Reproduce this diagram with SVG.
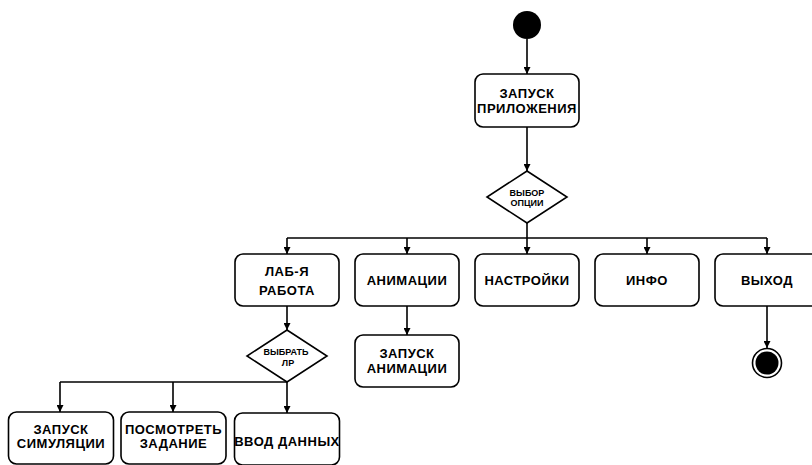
<svg xmlns="http://www.w3.org/2000/svg" width="812" height="465" viewBox="0 0 812 465">
<defs>
<style>
.box{fill:#fff;stroke:#000;stroke-width:1.6}
.dia{fill:#fff;stroke:#000;stroke-width:1.6}
.ln{fill:none;stroke:#000;stroke-width:1.6}
.t{font-family:"Liberation Sans",Arial,sans-serif;font-weight:bold;font-size:13px;letter-spacing:0.5px;text-anchor:middle;fill:#000}
.s{font-family:"Liberation Sans",Arial,sans-serif;font-weight:bold;font-size:9px;text-anchor:middle;fill:#000}
</style>
<marker id="ah" viewBox="0 0 10 10" refX="10" refY="5" markerWidth="7" markerHeight="7" markerUnits="userSpaceOnUse" orient="auto">
<path d="M0,0 L10,5 L0,10 z" fill="#000"/>
</marker>
</defs>
<g id="connectors">
<path class="ln" d="M527,39 V74" marker-end="url(#ah)"/>
<path class="ln" d="M527,127 V171" marker-end="url(#ah)"/>
<path class="ln" d="M527,223 V238"/>
<path class="ln" d="M287,238 H767"/>
<path class="ln" d="M287,238 V254" marker-end="url(#ah)"/>
<path class="ln" d="M407,238 V254" marker-end="url(#ah)"/>
<path class="ln" d="M527,238 V254" marker-end="url(#ah)"/>
<path class="ln" d="M647,238 V254" marker-end="url(#ah)"/>
<path class="ln" d="M767,238 V254" marker-end="url(#ah)"/>
<path class="ln" d="M407,306 V335" marker-end="url(#ah)"/>
<path class="ln" d="M767,306 V348" marker-end="url(#ah)"/>
<path class="ln" d="M287,306 V330" marker-end="url(#ah)"/>
<path class="ln" d="M60,382 H287"/>
<path class="ln" d="M60,382 V412" marker-end="url(#ah)"/>
<path class="ln" d="M173,382 V412" marker-end="url(#ah)"/>
<path class="ln" d="M287,382 V413" marker-end="url(#ah)"/>
</g>
<g id="start"><circle cx="527" cy="25" r="14" fill="#000"/></g>
<g id="launch"><rect class="box" x="475" y="74" width="104" height="53" rx="8"/><text class="t" x="527" y="98">ЗАПУСК</text><text class="t" x="527" y="113">ПРИЛОЖЕНИЯ</text></g>
<g id="choice"><polygon class="dia" points="527,171 567,197 527,223 487,197"/><text class="s" x="527" y="195.5">ВЫБОР</text><text class="s" x="527" y="205.5">ОПЦИИ</text></g>
<g id="lab"><rect class="box" x="235" y="254" width="104" height="52" rx="8"/><text class="t" x="287" y="276">ЛАБ-Я</text><text class="t" x="287" y="294.5">РАБОТА</text></g>
<g id="anim"><rect class="box" x="355" y="254" width="104" height="52" rx="8"/><text class="t" x="407" y="285">АНИМАЦИИ</text></g>
<g id="settings"><rect class="box" x="475" y="254" width="104" height="52" rx="8"/><text class="t" x="527" y="285">НАСТРОЙКИ</text></g>
<g id="info"><rect class="box" x="595" y="254" width="104" height="52" rx="8"/><text class="t" x="647" y="285">ИНФО</text></g>
<g id="exit"><rect class="box" x="715" y="254" width="104" height="52" rx="8"/><text class="t" x="767" y="285">ВЫХОД</text></g>
<g id="end"><circle cx="767" cy="363" r="14.5" fill="#fff" stroke="#000" stroke-width="1.6"/><circle cx="767" cy="363" r="11.5" fill="#000"/></g>
<g id="animrun"><rect class="box" x="355" y="335" width="104" height="52" rx="8"/><text class="t" x="407" y="358">ЗАПУСК</text><text class="t" x="407" y="373">АНИМАЦИИ</text></g>
<g id="chooselab"><polygon class="dia" points="287,330 327,356 287,382 247,356"/><text class="s" x="286" y="355">ВЫБРАТЬ</text><text class="s" x="288" y="366">ЛР</text></g>
<g id="sim"><rect class="box" x="8.5" y="412" width="105" height="52" rx="8"/><text class="t" x="61" y="434">ЗАПУСК</text><text class="t" x="61" y="448">СИМУЛЯЦИИ</text></g>
<g id="task"><rect class="box" x="121" y="412" width="105" height="52" rx="8"/><text class="t" x="173.5" y="434">ПОСМОТРЕТЬ</text><text class="t" x="173.5" y="448">ЗАДАНИЕ</text></g>
<g id="input"><rect class="box" x="234.5" y="413" width="105" height="52" rx="8"/><text class="t" x="287" y="446">ВВОД ДАННЫХ</text></g>
</svg>
